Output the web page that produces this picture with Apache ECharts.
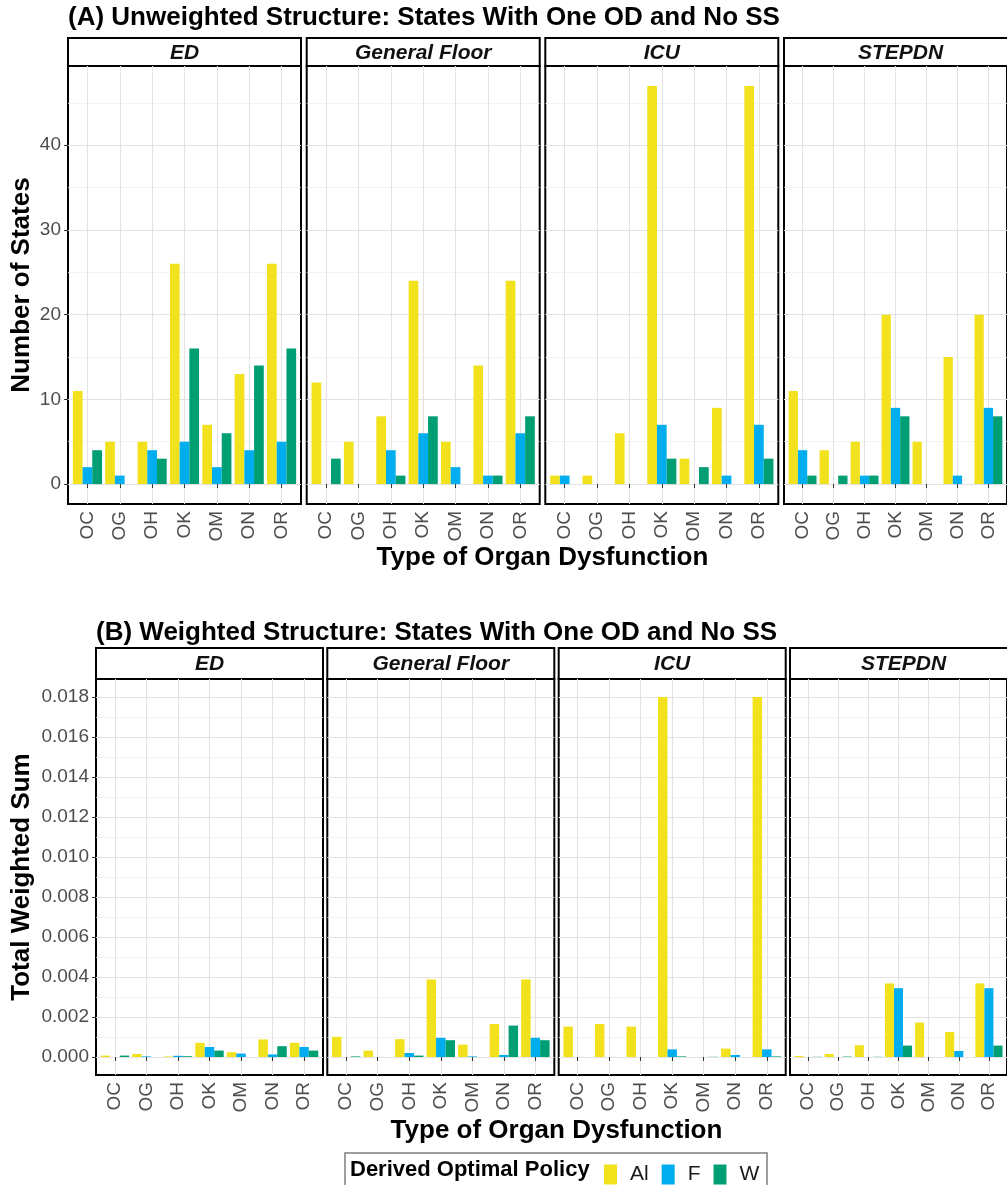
<!DOCTYPE html>
<html><head><meta charset="utf-8">
<script src="https://cdn.jsdelivr.net/npm/echarts@6/dist/echarts.min.js"></script>
<style>html,body{margin:0;padding:0;background:#fff}#c{width:1007px;height:1185px}</style>
</head><body><div id="c"></div>
<script>
// ---------- DATA ----------
const categories = ['OC','OG','OH','OK','OM','ON','OR'];
const units = ['ED','General Floor','ICU','STEPDN'];
const policies = ['Al','F','W'];

// (A) Unweighted: number of states; one row per unit (ED, General Floor, ICU, STEPDN)
const countAl = [
  [11, 5, 5, 26, 7, 13, 26],
  [12, 5, 8, 24, 5, 14, 24],
  [1, 1, 6, 47, 3, 9, 47],
  [11, 4, 5, 20, 5, 15, 20]
];
const countF = [
  [2, 1, 4, 5, 2, 4, 5],
  [0, 0, 4, 6, 2, 1, 6],
  [1, 0, 0, 7, 0, 1, 7],
  [4, 0, 1, 9, 0, 1, 9]
];
const countW = [
  [4, 0, 3, 16, 6, 14, 16],
  [3, 0, 1, 8, 0, 1, 8],
  [0, 0, 0, 3, 2, 0, 3],
  [1, 1, 1, 8, 0, 0, 8]
];

// (B) Weighted: total weighted sum
const weightAl = [
  [0.00007, 0.00015, 0.00003, 0.00071, 0.00024, 0.00088, 0.00071],
  [0.00101, 0.00032, 0.00089, 0.00388, 0.00062, 0.00165, 0.00388],
  [0.00152, 0.00165, 0.00152, 0.018, 0, 0.00042, 0.018],
  [0.00005, 0.00015, 0.00059, 0.00368, 0.00172, 0.00125, 0.00368]
];
const weightF = [
  [0, 0.00003, 0.00006, 0.0005, 0.00017, 0.00013, 0.0005],
  [0, 0, 0.0002, 0.00096, 0.00003, 0.0001, 0.00096],
  [0, 0, 0, 0.00038, 0, 0.0001, 0.00038],
  [0, 0, 0, 0.00344, 0, 0.0003, 0.00344]
];
const weightW = [
  [0.00007, 0, 0.00004, 0.00032, 0, 0.00054, 0.00032],
  [0.00003, 0, 0.00007, 0.00084, 0, 0.00157, 0.00084],
  [0, 0, 0, 0.00003, 0.00001, 0, 0.00003],
  [0.00001, 0.00002, 0.00001, 0.00057, 0, 0, 0.00057]
];

const yTicksA = [0, 10, 20, 30, 40];
const yTicksB = [0, 0.002, 0.004, 0.006, 0.008, 0.010, 0.012, 0.014, 0.016, 0.018];

// ---------- STYLE / LAYOUT ----------
const FONT = '"Liberation Sans", Arial, sans-serif';
const colors = {Al: '#F2E21E', F: '#00AEEF', W: '#009E73'};
const rows = [
  {
    title: '(A) Unweighted Structure: States With One OD and No SS', titleY: 18,
    stripTop: 38, top: 66, height: 438, lefts: [68, 306.7, 545.3, 784], width: 233,
    ymin: -2.35, ymax: 49.35, step: 10, ticks: yTicksA, fmt: v => String(v),
    values: [countAl, countF, countW], yTitle: 'Number of States', yTitleX: 22, xTitleY: 558
  },
  {
    title: '(B) Weighted Structure: States With One OD and No SS', titleY: 633,
    stripTop: 648, top: 679, height: 396, lefts: [96, 327.3, 558.7, 790], width: 227,
    ymin: -0.0009, ymax: 0.0189, step: 0.002, ticks: yTicksB, fmt: v => v.toFixed(3),
    values: [weightAl, weightF, weightW], yTitle: 'Total Weighted Sum', yTitleX: 22, xTitleY: 1131
  }
];

const grid = [], xAxis = [], yAxis = [], series = [], graphic = [];
let gi = 0;
rows.forEach((r, ri) => {
  graphic.push({type: 'text', x: r.lefts[0], y: r.titleY,
    style: {text: r.title, font: 'bold 26px ' + FONT, fill: '#000', verticalAlign: 'middle'}});
  graphic.push({type: 'text', x: r.yTitleX, y: r.top + r.height / 2, rotation: Math.PI / 2,
    style: {text: r.yTitle, font: 'bold 26px ' + FONT, fill: '#000', align: 'center', verticalAlign: 'middle'}});
  const cx = (r.lefts[0] + r.lefts[3] + r.width) / 2;
  graphic.push({type: 'text', x: cx, y: r.xTitleY,
    style: {text: 'Type of Organ Dysfunction', font: 'bold 26px ' + FONT, fill: '#000', align: 'center', verticalAlign: 'middle'}});
  units.forEach((u, ui) => {
    const left = r.lefts[ui];
    graphic.push({type: 'rect', shape: {x: left, y: r.stripTop, width: r.width, height: r.top - r.stripTop},
      style: {fill: '#fff', stroke: '#000', lineWidth: 2}});
    graphic.push({type: 'text', x: left + r.width / 2, y: (r.stripTop + r.top) / 2 + 1,
      style: {text: u, font: 'italic bold 21px ' + FONT, fill: '#111', align: 'center', verticalAlign: 'middle'}});
    grid.push({left: left, top: r.top, width: r.width, height: r.height, show: true,
      borderColor: '#000', borderWidth: 2, backgroundColor: 'transparent', containLabel: false});
    xAxis.push({
      type: 'value', gridIndex: gi, min: 0.4, max: 7.6, minInterval: 1, maxInterval: 1,
      axisLine: {show: false},
      axisTick: {show: true, length: 4, lineStyle: {color: '#333', width: 1}, customValues: [1,2,3,4,5,6,7]},
      axisLabel: {show: true, rotate: 90, margin: 7, color: '#4D4D4D', fontSize: 19, fontFamily: FONT,
        customValues: [1,2,3,4,5,6,7], formatter: v => categories[Math.round(v) - 1] || ''},
      splitLine: {show: true, lineStyle: {color: '#E3E3E3', width: 1.1}}
    });
    yAxis.push({
      type: 'value', gridIndex: gi, min: r.ymin, max: r.ymax, minInterval: r.step, maxInterval: r.step,
      axisLine: {show: false},
      axisTick: {show: ui === 0, length: 4, lineStyle: {color: '#333', width: 1}, customValues: r.ticks},
      axisLabel: {show: ui === 0, margin: 7, color: '#4D4D4D', fontSize: 19, fontFamily: FONT,
        customValues: r.ticks, formatter: r.fmt},
      splitLine: {show: true, lineStyle: {color: '#E3E3E3', width: 1.1}},
      minorTick: {show: false, splitNumber: 2},
      minorSplitLine: {show: true, lineStyle: {color: '#EEEEEE', width: 0.7}}
    });
    policies.forEach((p, pi) => {
      series.push({
        type: 'bar', name: p, xAxisIndex: gi, yAxisIndex: gi,
        barGap: '0%', barCategoryGap: '10%',
        itemStyle: {color: colors[p]},
        data: r.values[pi][ui].map((v, i) => [i + 1, v]),
        emphasis: {disabled: true}, animation: false
      });
    });
    gi++;
  });
});

// legend box + title
graphic.push({type: 'rect', shape: {x: 345, y: 1153, width: 422, height: 38},
  style: {fill: '#fff', stroke: '#7F7F7F', lineWidth: 1.5}, z: -1});
graphic.push({type: 'text', x: 350, y: 1170,
  style: {text: 'Derived Optimal Policy', font: 'bold 22px ' + FONT, fill: '#000', verticalAlign: 'middle'}});

const chart = echarts.init(document.getElementById('c'), null, {renderer: 'canvas'});
chart.setOption({
  animation: false,
  backgroundColor: '#fff',
  color: [colors.Al, colors.F, colors.W],
  grid, xAxis, yAxis, series, graphic,
  legend: {
    data: policies, left: 599, top: 1159, itemWidth: 13, itemHeight: 20, itemGap: 13,
    icon: 'rect', selectedMode: false,
    textStyle: {fontSize: 21, fontFamily: FONT, color: '#1a1a1a', padding: [0, 0, 0, 8]}
  }
});
</script></body></html>
